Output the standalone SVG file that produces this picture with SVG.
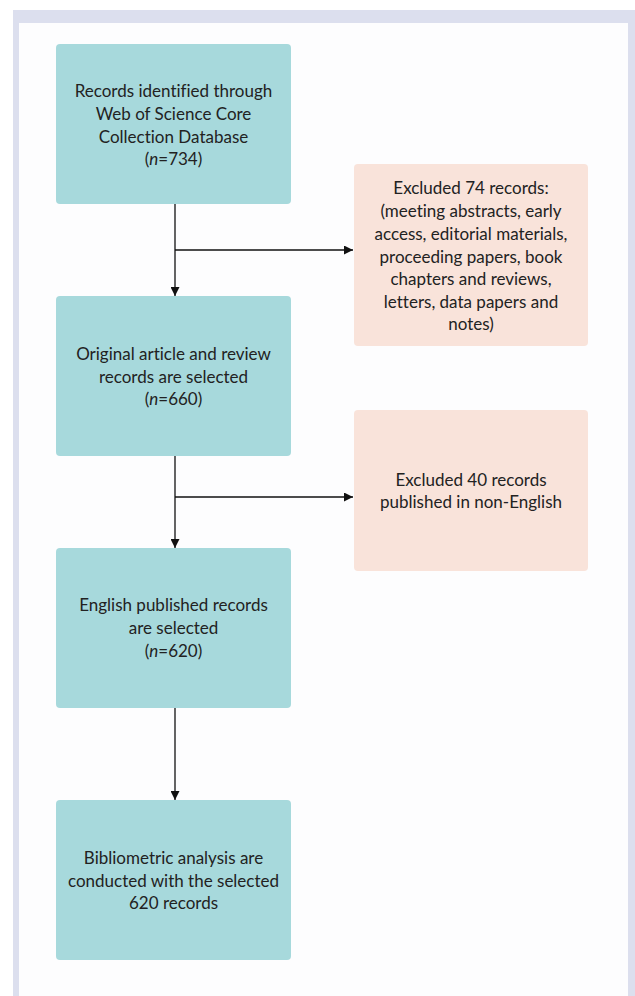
<svg xmlns="http://www.w3.org/2000/svg" width="635" height="996" viewBox="0 0 635 996">
<defs>
<marker id="ah" viewBox="0 0 10 10" refX="10" refY="5" markerWidth="9" markerHeight="9" markerUnits="userSpaceOnUse" orient="auto">
<path d="M0,0 L10,5 L0,10 z" fill="#111"/>
</marker>
</defs>
<style>
.teal{fill:#a7d9dc;}
.pink{fill:#f9e3da;}
.t{font-family:Lato,"Liberation Sans",sans-serif;font-size:17px;fill:#222;text-anchor:middle;dominant-baseline:central;font-variant-ligatures:none;}
.c{stroke:#111;stroke-width:1.3;fill:none;}
</style>
<rect x="0" y="0" width="635" height="996" fill="#ffffff"/>
<rect x="13" y="10" width="622" height="986" fill="#dcdfee"/>
<rect x="19" y="23" width="609" height="973" fill="#fdfdfe"/>
<g id="n1"><rect class="teal" x="56" y="44" width="235" height="160" rx="4"/>
<text class="t" x="173.5" y="90">Records identified through</text>
<text class="t" x="173.5" y="113">Web of Science Core</text>
<text class="t" x="173.5" y="136">Collection Database</text>
<text class="t" x="173.5" y="158">(<tspan font-style="italic">n</tspan>=734)</text></g>
<g id="n2"><rect class="pink" x="354" y="164" width="234" height="182" rx="4"/>
<text class="t" x="471" y="187">Excluded 74 records:</text>
<text class="t" x="471" y="210">(meeting abstracts, early</text>
<text class="t" x="471" y="233">access, editorial materials,</text>
<text class="t" x="471" y="256">proceeding papers, book</text>
<text class="t" x="471" y="278">chapters and reviews,</text>
<text class="t" x="471" y="301">letters, data papers and</text>
<text class="t" x="471" y="323">notes)</text></g>
<g id="n3"><rect class="teal" x="56" y="296" width="235" height="160" rx="4"/>
<text class="t" x="173.5" y="353">Original article and review</text>
<text class="t" x="173.5" y="376">records are selected</text>
<text class="t" x="173.5" y="398">(<tspan font-style="italic">n</tspan>=660)</text></g>
<g id="n4"><rect class="pink" x="354" y="410" width="234" height="161" rx="4"/>
<text class="t" x="471" y="479">Excluded 40 records</text>
<text class="t" x="471" y="501">published in non-English</text></g>
<g id="n5"><rect class="teal" x="56" y="548" width="235" height="160" rx="4"/>
<text class="t" x="173.5" y="604">English published records</text>
<text class="t" x="173.5" y="627">are selected</text>
<text class="t" x="173.5" y="650">(<tspan font-style="italic">n</tspan>=620)</text></g>
<g id="n6"><rect class="teal" x="56" y="800" width="235" height="160" rx="4"/>
<text class="t" x="173.5" y="857">Bibliometric analysis are</text>
<text class="t" x="173.5" y="880">conducted with the selected</text>
<text class="t" x="173.5" y="902">620 records</text></g>
<g id="connectors">
<line class="c" x1="175" y1="204" x2="175" y2="296" marker-end="url(#ah)"/>
<line class="c" x1="175" y1="250" x2="353" y2="250" marker-end="url(#ah)"/>
<line class="c" x1="175" y1="456" x2="175" y2="548" marker-end="url(#ah)"/>
<line class="c" x1="175" y1="497" x2="353" y2="497" marker-end="url(#ah)"/>
<line class="c" x1="175" y1="708" x2="175" y2="800" marker-end="url(#ah)"/>
</g>
</svg>
